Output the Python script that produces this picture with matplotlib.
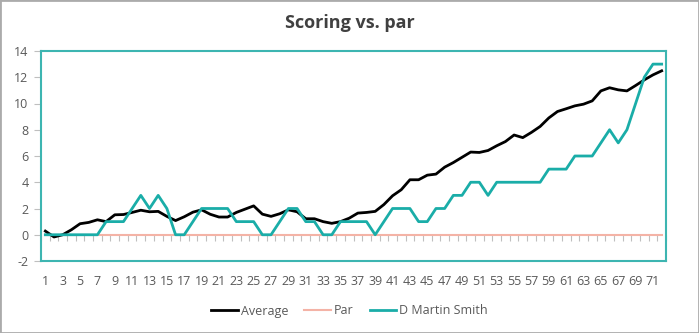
import matplotlib
matplotlib.use("Agg")
import matplotlib.pyplot as plt
import numpy as np
from matplotlib.patches import Rectangle

plt.rcParams['font.family'] = ['Open Sans', 'DejaVu Sans']
plt.rcParams['axes.unicode_minus'] = False

rounds = np.arange(1, 73)
average = [0.28, -0.17, 0.0, 0.38, 0.84, 0.94, 1.14, 1.0, 1.52, 1.54,
           1.7, 1.87, 1.75, 1.78, 1.4, 1.08, 1.37, 1.72, 1.9, 1.56,
           1.35, 1.35, 1.7, 1.95, 2.2, 1.57, 1.4, 1.6, 1.9, 1.75,
           1.22, 1.22, 1.0, 0.87, 1.0, 1.26, 1.65, 1.7, 1.78, 2.3,
           2.97, 3.43, 4.19, 4.19, 4.54, 4.62, 5.15, 5.5, 5.9, 6.3,
           6.27, 6.42, 6.78, 7.1, 7.6, 7.4, 7.8, 8.25, 8.9, 9.39,
           9.6, 9.82, 9.95, 10.2, 10.96, 11.2, 11.04, 10.96, 11.37, 11.8,
           12.18, 12.49]
par = [0] * 72
martin = [0, 0, 0, 0, 0, 0, 0, 1, 1, 1,
          2, 3, 2, 3, 2, 0, 0, 1, 2, 2,
          2, 2, 1, 1, 1, 0, 0, 1, 2, 2,
          1, 1, 0, 0, 1, 1, 1, 1, 0, 1,
          2, 2, 2, 1, 1, 2, 2, 3, 3, 4,
          4, 3, 4, 4, 4, 4, 4, 4, 5, 5,
          5, 6, 6, 6, 7, 8, 7, 8, 10, 12,
          13, 13]

teal = '#1AADA8'
txt = '#595959'

fig = plt.figure(figsize=(6.99, 3.33), dpi=100)
ax = fig.add_axes([41/699, 1 - 261/333, 625/699, 210/333])

ax.plot(rounds, par, color='#F4B3A6', lw=1.5, label='Par', zorder=2)
ax.plot(rounds, average, color='black', lw=2, label='Average', zorder=3)
ax.plot(rounds, martin, color=teal, lw=2, label='D Martin Smith', zorder=4)

ax.set_xlim(0.5, 72.5)
ax.set_ylim(-2, 14)
ax.set_yticks(np.arange(-2, 15, 2))
ax.set_xticks(rounds[::2])
ax.set_xticklabels([str(r) for r in rounds[::2]])
ax.tick_params(axis='x', length=0, pad=10, labelsize=9, colors=txt)
ax.tick_params(axis='y', length=5, width=0.8, color='#BFBFBF', labelsize=9,
               labelcolor=txt, pad=4)
for s in ax.spines.values():
    s.set_color('#3DB5B1')
    s.set_linewidth(1.5)

# category tick marks on the zero line
sec = ax.secondary_xaxis(2/16)
sec.set_xticks(np.arange(0.5, 73, 1))
sec.tick_params(length=4, width=0.8, color='#BFBFBF', labelbottom=False)
sec.spines['bottom'].set_visible(False)

handles, labels = ax.get_legend_handles_labels()
order = [1, 0, 2]
fig.legend([handles[i] for i in order], [labels[i] for i in order],
           loc='center', bbox_to_anchor=(0.5, 1 - 311/333), ncol=3,
           frameon=False, fontsize=9, handlelength=2.1, handletextpad=0.25,
           columnspacing=1.3, labelcolor=txt)

fig.text(0.5, 1 - 23/333, 'Scoring vs. par', ha='center', va='center',
         fontsize=13, fontweight='bold', color='#404040')

fig.patches.append(Rectangle((0, 0), 1, 1, transform=fig.transFigure,
                             fill=False, edgecolor='#ABABAB', lw=2))

fig.savefig('out.png', dpi=100)
